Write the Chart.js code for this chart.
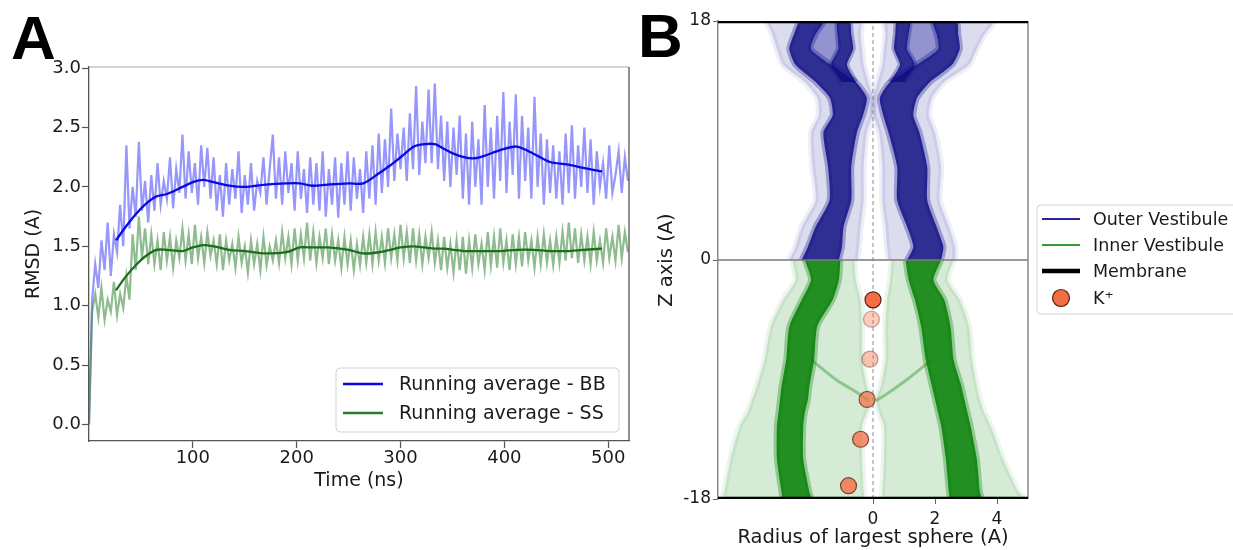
<!DOCTYPE html>
<html><head><meta charset="utf-8">
<script src="https://cdn.jsdelivr.net/npm/chart.js@4.4.1/dist/chart.umd.min.js"></script>
<style>
html,body{margin:0;padding:0;background:#fff;}
#wrap{position:relative;width:1233px;height:550px;overflow:hidden;background:#fff;}
canvas{position:absolute;top:0;}
.plabel{position:absolute;font-family:"Liberation Sans",Arial,sans-serif;font-weight:bold;font-size:62px;line-height:1;color:#000;}
</style></head><body>
<div id="wrap">
<canvas id="chartA" width="640" height="550" style="left:0"></canvas>
<canvas id="chartB" width="593" height="550" style="left:640px"></canvas>
<div class="plabel" style="left:11px;top:7px">A</div>
<div class="plabel" style="left:638px;top:5px">B</div>
</div>
<script>
// ---------------- Panel A data ----------------
const SAMPLE_STEP_NS = 3;
const BB_RAW = [
 0.00, 1.05, 1.35, 1.15, 1.55, 1.30, 1.70, 1.25, 1.60, 1.45,
 1.85, 1.50, 2.35, 1.65, 2.00, 1.75, 2.38, 1.80, 2.05, 1.70,
 2.10, 1.80, 2.20, 1.85, 2.05, 1.90, 2.25, 1.82, 2.15, 1.95,
 2.44, 1.90, 2.30, 1.95, 2.20, 1.85, 2.35, 2.00, 2.33, 1.90,
 2.25, 1.80, 2.10, 1.75, 2.20, 1.85, 2.15, 1.90, 2.30, 1.78,
 2.10, 1.85, 2.20, 1.80, 2.05, 1.95, 2.25, 1.85, 2.15, 2.44,
 1.90, 2.25, 1.85, 2.30, 1.95, 2.20, 1.80, 2.30, 1.90, 2.15,
 1.78, 2.25, 1.85, 2.20, 1.80, 2.30, 1.75, 2.15, 1.85, 2.25,
 1.74, 2.20, 1.85, 2.30, 1.80, 2.25, 1.90, 2.15, 1.78, 2.30,
 1.90, 2.35, 1.85, 2.45, 1.95, 2.40, 2.00, 2.66, 2.05, 2.45,
 2.15, 2.50, 2.05, 2.62, 2.15, 2.85, 2.10, 2.55, 2.20, 2.82,
 2.20, 2.87, 2.15, 2.60, 2.05, 2.55, 2.00, 2.50, 2.10, 2.60,
 1.90, 2.45, 1.85, 2.55, 2.00, 2.40, 1.85, 2.69, 2.00, 2.50,
 1.90, 2.60, 2.05, 2.80, 1.95, 2.55, 2.10, 2.78, 1.90, 2.60,
 2.05, 2.50, 1.90, 2.76, 2.00, 2.45, 1.85, 2.40, 1.95, 2.35,
 1.90, 2.30, 1.85, 2.45, 1.95, 2.52, 1.90, 2.35, 2.00, 2.50,
 1.95, 2.40, 1.85, 2.30, 2.00, 2.20, 1.90, 2.35, 1.95, 2.10,
 2.30, 1.95, 2.25, 2.05
];
const SS_RAW = [
 0.00, 0.95, 1.10, 0.90, 1.15, 0.88, 1.05, 0.95, 1.20, 0.92,
 1.10, 0.98, 1.25, 1.05, 1.60, 1.30, 1.75, 1.40, 1.65, 1.35,
 1.60, 1.35, 1.55, 1.30, 1.62, 1.38, 1.58, 1.32, 1.55, 1.40,
 1.65, 1.38, 1.60, 1.35, 1.68, 1.40, 1.58, 1.36, 1.62, 1.42,
 1.55, 1.35, 1.60, 1.30, 1.55, 1.38, 1.52, 1.32, 1.58, 1.36,
 1.50, 1.28, 1.55, 1.35, 1.52, 1.30, 1.58, 1.34, 1.50, 1.38,
 1.55, 1.36, 1.62, 1.40, 1.58, 1.35, 1.65, 1.38, 1.60, 1.40,
 1.70, 1.38, 1.62, 1.36, 1.58, 1.40, 1.65, 1.35, 1.60, 1.38,
 1.55, 1.32, 1.58, 1.35, 1.55, 1.30, 1.52, 1.34, 1.58, 1.36,
 1.60, 1.35, 1.62, 1.38, 1.58, 1.36, 1.65, 1.40, 1.60, 1.38,
 1.68, 1.40, 1.62, 1.36, 1.65, 1.38, 1.60, 1.35, 1.58, 1.40,
 1.62, 1.36, 1.55, 1.30, 1.58, 1.32, 1.52, 1.28, 1.55, 1.30,
 1.58, 1.27, 1.55, 1.32, 1.60, 1.35, 1.52, 1.30, 1.62, 1.34,
 1.58, 1.32, 1.65, 1.36, 1.55, 1.30, 1.60, 1.35, 1.58, 1.33,
 1.62, 1.38, 1.55, 1.32, 1.58, 1.35, 1.60, 1.36, 1.55, 1.34,
 1.58, 1.36, 1.62, 1.38, 1.70, 1.40, 1.65, 1.36, 1.60, 1.38,
 1.58, 1.35, 1.62, 1.38, 1.55, 1.36, 1.65, 1.40, 1.58, 1.38,
 1.68, 1.40, 1.62, 1.45
];
const AVG_TIME = [26,35,45,55,65, 75,90,100,110,120, 135,150,170,190,203, 215,230,250,264,280,
                  290,300,313,323,333, 342,351,361,370,380, 396,412,428,444,460, 476,494];
const BB_AVG = [1.55,1.66,1.77,1.86,1.92, 1.94,2.00,2.04,2.06,2.04, 2.01,2.00,2.02,2.03,2.03,
                2.01,2.02,2.03,2.03,2.12, 2.18,2.25,2.34,2.36,2.36, 2.32,2.28,2.25,2.24,2.26,
                2.31,2.34,2.28,2.21,2.19, 2.16,2.13];
const SS_AVG = [1.13,1.24,1.34,1.42,1.47, 1.47,1.46,1.49,1.51,1.50, 1.47,1.46,1.44,1.45,1.49,
                1.49,1.49,1.47,1.44,1.45, 1.47,1.49,1.50,1.49,1.48, 1.48,1.47,1.46,1.46,1.46,
                1.46,1.47,1.47,1.46,1.46, 1.47,1.48];
const A_X_TICKS = [100,200,300,400,500];
const A_Y_TICKS = [0,0.5,1.0,1.5,2.0,2.5,3.0];
const A_LABELS = ['Running average - BB','Running average - SS'];

// ---------------- Panel B data ----------------
const B_X_TICKS = [0,2,4];
const B_Y_TICKS = [-18,0,18];
const B_LABELS = ['Outer Vestibule','Inner Vestibule','Membrane','K\u207A'];
// outer vestibule (blue): main band, bending outward near the top
const OV_Z        = [0, 1, 2.5, 4.5, 7, 9.6, 10.9, 12.2, 13.4, 14.7, 15.9, 17.0, 18];
const OV_L_OUT    = [-2.30,-2.10,-1.85,-1.40,-1.45,-1.60,-1.30,-1.39,-1.85,-2.50,-2.70,-2.55,-2.35];
const OV_L_IN     = [-1.10,-1.00,-0.95,-0.70,-0.70,-0.52,-0.32,-0.20,-0.55,-1.35,-2.00,-1.85,-1.60];
const OV_R_IN     = [1.10, 1.30, 1.10, 0.78, 0.78, 0.50, 0.33, 0.22, 0.55, 1.40, 2.10, 2.05, 1.94];
const OV_R_OUT    = [2.20, 2.27, 2.05, 1.75, 1.75, 1.50, 1.30, 1.42, 1.84, 2.55, 2.80, 2.75, 2.70];
// outer vestibule: inner strands near the top
const ST_Z        = [13.4, 14.7, 15.9, 17.0, 18.0];
const ST_L_OUT    = [-1.00,-1.35,-1.12,-1.15,-1.15];
const ST_L_IN     = [-0.55,-0.84,-0.64,-0.70,-0.75];
const ST_R_IN     = [0.55, 0.87, 0.68, 0.72, 0.77];
const ST_R_OUT    = [1.00, 1.35, 1.10, 1.15, 1.19];
// lighter pockets between band and strand
const HO_Z        = [14.7, 15.9, 17.0, 18.0];
const HO_L_A      = [-1.35,-2.00,-1.85,-1.60];
const HO_L_B      = [-1.35,-1.12,-1.15,-1.15];
const HO_R_A      = [1.35, 1.10, 1.15, 1.19];
const HO_R_B      = [1.40, 2.10, 2.05, 1.94];
// outer vestibule spread
const OVE_Z       = [0, 1, 2.5, 4.5, 7, 9.6, 10.9, 12.2, 13.4, 14.7, 15.9, 17, 18];
const OVE_L_OUT   = [-2.70,-2.50,-2.30,-1.85,-1.95,-2.00,-1.75,-1.80,-2.20,-2.90,-3.10,-3.25,-3.40];
const OVE_L_IN    = [-0.50,-0.45,-0.40,-0.30,-0.30,-0.20,-0.02,0.00,-0.15,-0.30,-0.35,-0.40,-0.40];
const OVE_R_IN    = [0.50, 0.45, 0.40, 0.30, 0.30, 0.20, 0.02, 0.00, 0.15, 0.30, 0.35, 0.40, 0.40];
const OVE_R_OUT   = [2.65, 2.65, 2.45, 2.15, 2.20, 2.00, 1.80, 1.90, 2.30, 3.10, 3.35, 3.60, 3.90];
// inner vestibule (green)
const IV_Z        = [0, -1.5, -3, -5, -7.5, -9.5, -10.5, -11.5, -12.5, -15, -17.5, -18];
const IV_L_OUT    = [-2.20,-2.00,-2.30,-2.70,-2.80,-2.95,-3.00,-3.05,-3.10,-3.10,-2.95,-2.90];
const IV_L_IN     = [-1.05,-1.10,-1.30,-1.80,-1.90,-2.05,-2.10,-2.20,-2.25,-2.25,-2.05,-2.00];
const IV_R_IN     = [1.05, 1.15, 1.35, 1.55, 1.70, 1.90, 2.00, 2.10, 2.20, 2.35, 2.45, 2.50];
const IV_R_OUT    = [2.20, 1.95, 2.30, 2.50, 2.60, 2.85, 2.95, 3.05, 3.15, 3.35, 3.45, 3.50];
const IVE_L_OUT   = [-2.60,-2.50,-2.90,-3.30,-3.50,-3.75,-3.90,-4.05,-4.30,-4.60,-4.80,-4.85];
const IVE_L_IN    = [-0.60,-0.55,-0.40,-0.35,-0.35,-0.20,-0.05,-0.20,-0.35,-0.35,-0.30,-0.30];
const IVE_R_IN    = [0.60, 0.55, 0.45, 0.40, 0.40, 0.25, 0.10, 0.20, 0.35, 0.35, 0.30, 0.30];
const IVE_R_OUT   = [2.60, 2.40, 2.80, 3.10, 3.20, 3.35, 3.45, 3.60, 3.80, 4.20, 4.70, 4.90];
// converging "V" strands inside the inner vestibule
const V_Z         = [-7.5, -9.0, -10.0, -10.6];
const V_L_R       = [-2.00,-1.20,-0.50,-0.15];
const V_R_R       = [1.90, 1.10, 0.50, 0.10];
// K+ ions
const K_R         = [0.00,-0.05,-0.10,-0.19,-0.40,-0.79];
const K_Z         = [-3.0,-4.46,-7.47,-10.5,-13.5,-17.0];
const K_ALPHA     = [1.0, 0.35, 0.42, 0.7, 0.75, 0.78];

// ---------------- helpers ----------------
const FONT = "'DejaVu Sans', 'Noto Sans', sans-serif";
Chart.defaults.font.family = FONT;
Chart.defaults.color = '#1a1a1a';
const pts = (xs, ys) => xs.map((x, i) => ({x: x, y: ys[i]}));
const rawPts = vals => vals.map((v, i) => ({x: i * SAMPLE_STEP_NS, y: v}));
const polygon = (zs, a, b) => zs.map((z, i) => ({x: a[i], y: z}))
  .concat(zs.map((z, i) => ({x: b[i], y: z})).reverse());
const fixTicks = list => (s => { s.ticks = list.map(v => ({value: v})); });
const polyDs = (data, color, order, edgeColor, edgeWidth) => ({data, showLine: true, fill: 'shape', backgroundColor: color,
  borderColor: edgeColor || 'rgba(0,0,0,0)', borderWidth: edgeWidth || 0, borderJoinStyle: 'round',
  pointRadius: 0, tension: 0.2, order});
const lineDs = (label, data, color, width, order, extra) => Object.assign({label, data, showLine: true,
  fill: false, borderColor: color, backgroundColor: color, borderWidth: width, pointRadius: 0, tension: 0, order}, extra || {});

const framePlugin = {
  id: 'frame',
  _draw(chart, o) {
    const {ctx, chartArea: a} = chart;
    ctx.save();
    (o.sides || []).forEach(s => {
      ctx.beginPath();
      ctx.strokeStyle = s.color; ctx.lineWidth = s.width;
      if (s.side === 'top') { ctx.moveTo(a.left, a.top); ctx.lineTo(a.right, a.top); }
      if (s.side === 'right') { ctx.moveTo(a.right, a.top); ctx.lineTo(a.right, a.bottom); }
      ctx.stroke();
    });
    ctx.restore();
  },
  beforeDatasetsDraw(chart, args, o) { if (o.layer === 'below') this._draw(chart, o); },
  afterDatasetsDraw(chart, args, o) { if (o.layer !== 'below') this._draw(chart, o); }
};

const boxLegendPlugin = {
  id: 'boxLegend',
  afterDraw(chart, args, o) {
    if (!o || !o.items) return;
    const ctx = chart.ctx;
    ctx.save();
    const r = 4, x = o.x, y = o.y, w = o.w, h = o.h;
    ctx.beginPath();
    ctx.moveTo(x + r, y); ctx.lineTo(x + w - r, y); ctx.quadraticCurveTo(x + w, y, x + w, y + r);
    ctx.lineTo(x + w, y + h - r); ctx.quadraticCurveTo(x + w, y + h, x + w - r, y + h);
    ctx.lineTo(x + r, y + h); ctx.quadraticCurveTo(x, y + h, x, y + h - r);
    ctx.lineTo(x, y + r); ctx.quadraticCurveTo(x, y, x + r, y);
    ctx.closePath();
    ctx.fillStyle = 'rgba(255,255,255,0.85)'; ctx.fill();
    ctx.strokeStyle = '#d4d4d4'; ctx.lineWidth = 1; ctx.stroke();
    ctx.font = o.fontSize + 'px ' + FONT;
    ctx.textBaseline = 'middle'; ctx.textAlign = 'left';
    o.items.forEach((it, i) => {
      const yy = o.rowY[i];
      if (it.marker === 'circle') {
        ctx.beginPath();
        ctx.arc((o.lineX0 + o.lineX1) / 2, yy, it.radius, 0, Math.PI * 2);
        ctx.fillStyle = it.fill; ctx.fill();
        ctx.strokeStyle = it.edge; ctx.lineWidth = 1.2; ctx.stroke();
      } else {
        ctx.beginPath();
        ctx.moveTo(o.lineX0, yy); ctx.lineTo(o.lineX1, yy);
        ctx.strokeStyle = it.color; ctx.lineWidth = it.width; ctx.lineCap = 'butt'; ctx.stroke();
      }
      ctx.fillStyle = '#1a1a1a';
      ctx.fillText(it.text, o.textX, yy + 1);
    });
    ctx.restore();
  }
};

// ---------------- Panel A ----------------
new Chart(document.getElementById('chartA'), {
  type: 'scatter',
  data: {datasets: [
    lineDs('BB', rawPts(BB_RAW), 'rgba(110,110,250,0.72)', 2.2, 4),
    lineDs('SS', rawPts(SS_RAW), 'rgba(60,140,60,0.58)', 2.2, 3),
    lineDs(A_LABELS[0], pts(AVG_TIME, BB_AVG), '#0a0ae0', 2.3, 2, {tension: 0.3}),
    lineDs(A_LABELS[1], pts(AVG_TIME, SS_AVG), '#1c6e1c', 2.3, 1, {tension: 0.3})
  ]},
  options: {
    responsive: false, animation: false, devicePixelRatio: 1, events: [],
    layout: {padding: {left: 0, right: 11, top: 67, bottom: 0}},
    plugins: {
      legend: {display: false}, tooltip: {enabled: false},
      frame: {layer: 'above', sides: [{side: 'top', color: '#a8a8a8', width: 1.2}, {side: 'right', color: '#555', width: 1.3}]},
      boxLegend: {x: 336, y: 368, w: 283, h: 64, lineX0: 343, lineX1: 383, textX: 399, rowY: [384, 413], fontSize: 19,
        items: [{text: A_LABELS[0], color: '#0a0ae0', width: 2.5}, {text: A_LABELS[1], color: '#2a7d2a', width: 2.5}]}
    },
    scales: {
      x: {type: 'linear', min: 0, max: 520, afterBuildTicks: fixTicks(A_X_TICKS), afterFit: s => { s.height = 109; },
        grid: {drawOnChartArea: false, drawTicks: true, tickLength: 7, tickColor: '#555', tickWidth: 1.2},
        border: {display: true, color: '#555', width: 1.3},
        ticks: {font: {size: 18}, padding: 0, color: '#1a1a1a', maxRotation: 0},
        title: {display: true, text: 'Time (ns)', font: {size: 19}, color: '#1a1a1a', padding: {top: 0, bottom: 58}}},
      y: {type: 'linear', min: -0.14, max: 3.01, afterBuildTicks: fixTicks(A_Y_TICKS), afterFit: s => { s.width = 89; },
        grid: {drawOnChartArea: false, drawTicks: true, tickLength: 7, tickColor: '#555', tickWidth: 1.2},
        border: {display: true, color: '#555', width: 1.3},
        ticks: {font: {size: 18}, padding: 1, color: '#1a1a1a', callback: v => Number(v).toFixed(1)},
        title: {display: true, text: 'RMSD (A)', font: {size: 19}, color: '#1a1a1a', padding: {top: 23, bottom: 0}}}
    }
  },
  plugins: [framePlugin, boxLegendPlugin]
});

// ---------------- Panel B ----------------
const BLUE_CORE = 'rgba(14,14,130,0.84)';
const BLUE_HALO = 'rgba(14,14,140,0.32)';
const BLUE_SOFT = 'rgba(20,20,150,0.15)';
const BLUE_SOFT_EDGE = 'rgba(20,20,150,0.07)';
const BLUE_MID = 'rgba(20,20,150,0.36)';
const GREEN_CORE = 'rgba(0,125,0,0.84)';
const GREEN_HALO = 'rgba(0,128,0,0.32)';
const GREEN_SOFT = 'rgba(0,128,0,0.16)';
const GREEN_SOFT_EDGE = 'rgba(0,128,0,0.07)';
const GREEN_MID = 'rgba(0,128,0,0.35)';
const kFill = K_ALPHA.map(a => 'rgba(244,109,67,' + a + ')');
const kEdge = K_ALPHA.map(a => 'rgba(85,35,20,' + a + ')');

new Chart(document.getElementById('chartB'), {
  type: 'scatter',
  data: {datasets: [
    polyDs(polygon(OVE_Z, OVE_L_OUT, OVE_L_IN), BLUE_SOFT, 60, BLUE_SOFT_EDGE, 6),
    polyDs(polygon(OVE_Z, OVE_R_IN, OVE_R_OUT), BLUE_SOFT, 60, BLUE_SOFT_EDGE, 6),
    polyDs(polygon(IV_Z, IVE_L_OUT, IVE_L_IN), GREEN_SOFT, 60, GREEN_SOFT_EDGE, 6),
    polyDs(polygon(IV_Z, IVE_R_IN, IVE_R_OUT), GREEN_SOFT, 60, GREEN_SOFT_EDGE, 6),
    polyDs(polygon(HO_Z, HO_L_A, HO_L_B), BLUE_MID, 55),
    polyDs(polygon(HO_Z, HO_R_A, HO_R_B), BLUE_MID, 55),
    Object.assign(polyDs(polygon(OV_Z, OV_L_OUT, OV_L_IN), BLUE_CORE, 50, BLUE_HALO, 6), {label: B_LABELS[0]}),
    polyDs(polygon(OV_Z, OV_R_IN, OV_R_OUT), BLUE_CORE, 50, BLUE_HALO, 6),
    polyDs(polygon(ST_Z, ST_L_OUT, ST_L_IN), BLUE_CORE, 50, BLUE_HALO, 5),
    polyDs(polygon(ST_Z, ST_R_IN, ST_R_OUT), BLUE_CORE, 50, BLUE_HALO, 5),
    Object.assign(polyDs(polygon(IV_Z, IV_L_OUT, IV_L_IN), GREEN_CORE, 50, GREEN_HALO, 6), {label: B_LABELS[1]}),
    polyDs(polygon(IV_Z, IV_R_IN, IV_R_OUT), GREEN_CORE, 50, GREEN_HALO, 6),
    lineDs('V left', pts(V_L_R, V_Z), GREEN_MID, 3, 45, {tension: 0.3}),
    lineDs('V right', pts(V_R_R, V_Z), GREEN_MID, 3, 45, {tension: 0.3}),
    lineDs('z0', pts([-5, 5], [0, 0]), '#7a7a7a', 1.5, 30),
    lineDs('axis', pts([0, 0], [-18, 18]), '#8a8a8a', 1, 30, {borderDash: [4, 3]}),
    lineDs(B_LABELS[2], pts([-5, 5], [18, 18]), '#000', 4.5, 20),
    lineDs(B_LABELS[2] + ' ', pts([-5, 5], [-18, -18]), '#000', 4.5, 20),
    {label: B_LABELS[3], data: pts(K_R, K_Z), showLine: false, pointRadius: 8, pointBackgroundColor: kFill,
      pointBorderColor: kEdge, pointBorderWidth: 1.2, order: 0}
  ]},
  options: {
    responsive: false, animation: false, devicePixelRatio: 1, events: [],
    layout: {padding: {left: 0, right: 205, top: 21, bottom: 0}},
    plugins: {
      legend: {display: false}, tooltip: {enabled: false},
      frame: {layer: 'below', sides: [{side: 'right', color: '#8a8a8a', width: 1.5}]},
      boxLegend: {x: 397, y: 205, w: 230, h: 109, lineX0: 402, lineX1: 440, textX: 453, rowY: [219, 245, 271, 298], fontSize: 17.5,
        items: [{text: B_LABELS[0], color: 'rgb(40,40,155)', width: 2},
                {text: B_LABELS[1], color: 'rgb(50,155,50)', width: 2},
                {text: B_LABELS[2], color: '#000', width: 4.5},
                {text: B_LABELS[3], marker: 'circle', radius: 8.5, fill: 'rgb(244,109,67)', edge: 'rgb(85,35,20)'}]}
    },
    scales: {
      x: {type: 'linear', min: -5, max: 5, afterBuildTicks: fixTicks(B_X_TICKS), afterFit: s => { s.height = 51; },
        grid: {drawOnChartArea: false, drawTicks: true, tickLength: 5, tickColor: '#666'},
        border: {display: false},
        ticks: {font: {size: 17}, padding: 5, color: '#1a1a1a', maxRotation: 0},
        title: {display: true, text: 'Radius of largest sphere (A)', font: {size: 19.5}, color: '#1a1a1a', padding: {top: 0, bottom: 0}}},
      y: {type: 'linear', min: -18, max: 18, afterBuildTicks: fixTicks(B_Y_TICKS), afterFit: s => { s.width = 78; },
        grid: {drawOnChartArea: false, drawTicks: true, tickLength: 5, tickColor: '#666'},
        border: {display: true, color: '#8a8a8a', width: 1.5},
        ticks: {font: {size: 17}, padding: 2, color: '#1a1a1a', callback: v => String(v)},
        title: {display: true, text: 'Z axis (A)', font: {size: 19.5}, color: '#1a1a1a', padding: {top: 15, bottom: 0}}}
    }
  },
  plugins: [framePlugin, boxLegendPlugin]
});
</script>
</body></html>
